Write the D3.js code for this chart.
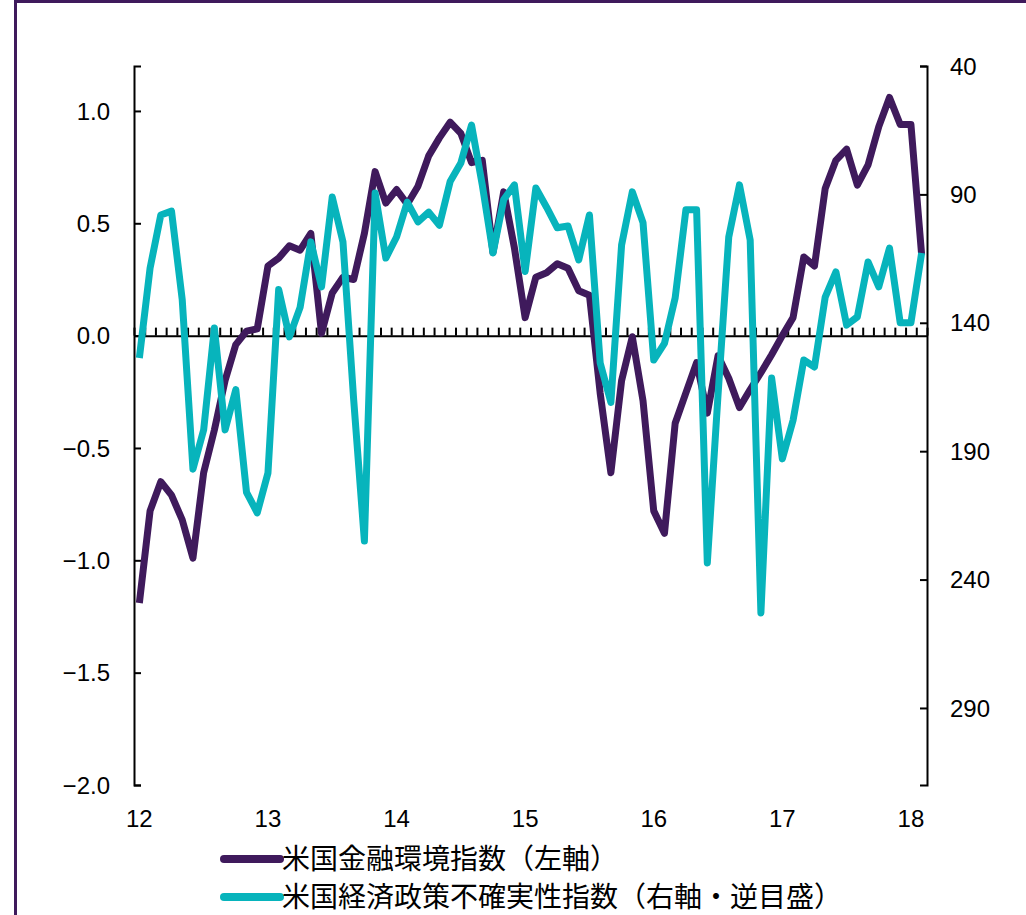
<!DOCTYPE html>
<html><head><meta charset="utf-8">
<script src="https://cdn.jsdelivr.net/npm/d3@7"></script>
<style>html,body{margin:0;padding:0;background:#fff;}svg{display:block;}</style>
</head><body>
<svg id="c" width="1026" height="915"></svg>
<script>
// Monthly data, Jan 2012 .. Feb 2018
const yearLabels = ["12","13","14","15","16","17","18"];
const leftTicks = [1.0, 0.5, 0.0, -0.5, -1.0, -1.5, -2.0];
const rightTicks = [40, 90, 140, 190, 240, 290];
const fciSeries = [
 -1.19,-0.78,-0.65,-0.71,-0.82,-0.99,-0.61,-0.42,-0.20,-0.04,0.02,0.03,
 0.31,0.345,0.40,0.38,0.455,0.01,0.19,0.26,0.25,0.455,0.73,0.59,
 0.65,0.585,0.665,0.80,0.88,0.95,0.90,0.77,0.78,0.37,0.64,0.39,
 0.08,0.26,0.28,0.32,0.30,0.20,0.18,-0.255,-0.61,-0.20,-0.005,-0.29,
 -0.78,-0.88,-0.39,-0.255,-0.12,-0.345,-0.09,-0.19,-0.32,-0.24,-0.165,-0.085,
 0.0,0.08,0.35,0.31,0.655,0.78,0.83,0.67,0.76,0.93,1.06,0.94,
 0.94,0.36];
const epuSeries = [
 153.7,118.7,98,96.5,131,197,181.7,142,181.7,166,206,214,
 198.5,127,145.5,134,108.5,126,91,108.5,170,225,89.5,114.8,
 106.6,93,100.7,96.9,102,85,77.8,63,86.3,112.8,92,86.3,
 120,87.5,95,103,102.3,115.5,98,155.6,171,109.7,89,101,
 154.5,148,130.3,96,96,233.5,168,106.6,86.3,107.8,253,161.5,
 193,178,154.5,157.2,130,120.2,140.9,137.7,116.3,126,110.9,140,
 140,112.8];
const legendNames = ["米国金融環境指数（左軸）", "米国経済政策不確実性指数（右軸・逆目盛）"];

const purple = "#3f1a5c", cyan = "#07b4bc";
const svg = d3.select("#c");
const n = fciSeries.length;
const L = 134, R = 927, T = 66, B = 785;
const x = d3.scaleLinear().domain([-0.5, n - 0.5]).range([L, R]);
const yL = d3.scaleLinear().domain([-2.0, 1.2]).range([B, T]);
const yR = d3.scaleLinear().domain([320, 40]).range([B, T]);

// frame
svg.append("rect").attr("x",15.5).attr("y",1.5).attr("width",1040).attr("height",1000)
  .attr("fill","none").attr("stroke",purple).attr("stroke-width",3);

const numFont = "'Liberation Sans', Arial, sans-serif";

// left axis
const gL = svg.append("g").attr("transform",`translate(${L},0)`)
  .call(d3.axisRight(yL).tickValues(leftTicks).tickSize(7).tickFormat(""));
gL.select(".domain").attr("stroke","#000").attr("stroke-width",2);
gL.selectAll(".tick line").attr("stroke","#000").attr("stroke-width",2);
svg.append("g").selectAll("text").data(leftTicks).join("text")
  .attr("x",110).attr("y",d=>yL(d)).attr("dy","0.36em").attr("text-anchor","end")
  .attr("font-family",numFont).attr("font-size",24).attr("fill","#000")
  .text(d=>d3.format(".1f")(d).replace("-","\u2212"));

// right axis
const gR = svg.append("g").attr("transform",`translate(${R},0)`)
  .call(d3.axisLeft(yR).tickValues(rightTicks).tickSize(7).tickFormat(""));
gR.select(".domain").attr("stroke","#000").attr("stroke-width",2);
gR.selectAll(".tick line").attr("stroke","#000").attr("stroke-width",2);
svg.append("g").selectAll("text").data(rightTicks).join("text")
  .attr("x",950).attr("y",d=>yR(d)).attr("dy","0.36em").attr("text-anchor","start")
  .attr("font-family",numFont).attr("font-size",24).attr("fill","#000")
  .text(d=>d);

// zero line with month ticks
const bounds = d3.range(0, n + 1).map(i => i - 0.5);
const gX = svg.append("g").attr("transform",`translate(0,${yL(0)})`)
  .call(d3.axisTop(x).tickValues(bounds).tickSize(8).tickFormat("").tickSizeOuter(0));
gX.select(".domain").attr("stroke","#000").attr("stroke-width",2);
gX.selectAll(".tick line").attr("stroke","#000").attr("stroke-width",2);

// year labels
svg.append("g").selectAll("text").data(yearLabels).join("text")
  .attr("x",(d,i)=>x(i*12)).attr("y",818).attr("dy","0.36em").attr("text-anchor","middle")
  .attr("font-family",numFont).attr("font-size",24).attr("fill","#000")
  .text(d=>d);

// lines
const lineL = d3.line().x((d,i)=>x(i)).y(d=>yL(d)).curve(d3.curveLinear);
const lineR = d3.line().x((d,i)=>x(i)).y(d=>yR(d)).curve(d3.curveLinear);
svg.append("path").datum(fciSeries).attr("d",lineL).attr("fill","none")
  .attr("stroke",purple).attr("stroke-width",7).attr("stroke-linejoin","round");
svg.append("path").datum(epuSeries).attr("d",lineR).attr("fill","none")
  .attr("stroke",cyan).attr("stroke-width",7).attr("stroke-linejoin","round");

// legend
const lg = svg.append("g");
[purple, cyan].forEach((c,i)=>{
  const yy = 859 + i*38;
  lg.append("line").attr("x1",224).attr("x2",280).attr("y1",yy).attr("y2",yy)
    .attr("stroke",c).attr("stroke-width",8).attr("stroke-linecap","round");
  lg.append("text").attr("x",282).attr("y",yy).attr("dy","0.36em")
    .attr("font-family","'Noto Sans CJK JP', sans-serif").attr("font-size",28).attr("fill","#000")
    .text(legendNames[i]);
});
</script>
</body></html>
